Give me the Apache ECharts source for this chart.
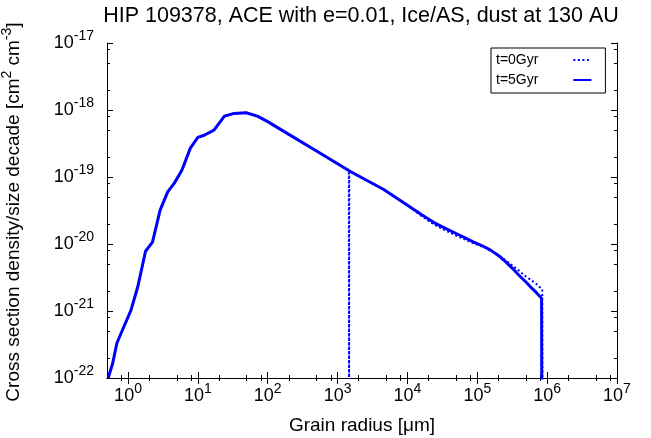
<!DOCTYPE html>
<html>
<head>
<meta charset="utf-8">
<script src="https://cdn.jsdelivr.net/npm/echarts@6/dist/echarts.min.js"></script>
<style>
html,body{margin:0;padding:0;background:#fff;}
#chart{width:651px;height:438px;}
</style>
</head>
<body>
<div id="chart"></div>
<script>
// ---- data (grain radius in micrometres, cross section density per size decade) ----
var radius0 = [0.52, 0.603, 0.692, 0.832, 1.10, 1.38, 1.78, 2.24, 2.88, 3.7, 4.6, 5.9, 7.8, 10, 12.3, 17, 24, 33, 49, 71, 100, 170, 513, 1450, 1460, 1470, 4570, 10000, 15800, 24000, 35500, 56200, 89100, 126000, 155000, 200000, 251000, 316000, 398000, 501000, 575000, 708000, 851000, 860000];
var value0  = [1.0e-22, 1.66e-22, 3.3e-22, 5.2e-22, 1.02e-21, 2.3e-21, 7.8e-21, 1.07e-20, 3.2e-20, 6.0e-20, 8.1e-20, 1.26e-19, 2.7e-19, 3.9e-19, 4.2e-19, 5.0e-19, 8.1e-19, 8.9e-19, 9.1e-19, 8.1e-19, 6.7e-19, 4.8e-19, 2.4e-19, 1.23e-19, 1e-23, 1.22e-19, 6.5e-20, 3.8e-20, 2.63e-20, 1.95e-20, 1.58e-20, 1.26e-20, 1.02e-20, 8.9e-21, 7.9e-21, 6.9e-21, 5.75e-21, 4.79e-21, 3.98e-21, 3.24e-21, 2.95e-21, 2.51e-21, 2.09e-21, 1e-23];
var radius5 = [0.52, 0.603, 0.692, 0.832, 1.10, 1.38, 1.78, 2.24, 2.88, 3.7, 4.6, 5.9, 7.8, 10, 12.3, 17, 24, 33, 49, 71, 100, 170, 513, 1550, 4570, 10000, 15800, 24000, 35500, 56200, 89100, 126000, 155000, 200000, 251000, 316000, 398000, 501000, 603000, 708000, 832000, 841000];
var value5  = [1.0e-22, 1.66e-22, 3.3e-22, 5.2e-22, 1.02e-21, 2.3e-21, 7.8e-21, 1.07e-20, 3.2e-20, 6.0e-20, 8.1e-20, 1.26e-19, 2.7e-19, 3.9e-19, 4.2e-19, 5.0e-19, 8.1e-19, 8.9e-19, 9.1e-19, 8.1e-19, 6.7e-19, 4.8e-19, 2.4e-19, 1.2e-19, 6.5e-20, 3.8e-20, 2.75e-20, 2.09e-20, 1.70e-20, 1.35e-20, 1.07e-20, 9.1e-21, 8.1e-21, 6.76e-21, 5.5e-21, 4.37e-21, 3.39e-21, 2.69e-21, 2.19e-21, 1.86e-21, 1.55e-21, 1e-23];
var seriesNames = ['t=0Gyr', 't=5Gyr'];

// ---- ticks ----
var xMajor = [1, 10, 100, 1e3, 1e4, 1e5, 1e6, 1e7];
var xMinor = [0.8, 2, 5, 8, 20, 50, 80, 200, 500, 800, 2e3, 5e3, 8e3, 2e4, 5e4, 8e4, 2e5, 5e5, 8e5, 2e6, 5e6, 8e6];
var yMajor = [1e-22, 1e-21, 1e-20, 1e-19, 1e-18, 1e-17];
var yMinor = [2e-22, 5e-22, 8e-22, 2e-21, 5e-21, 8e-21, 2e-20, 5e-20, 8e-20, 2e-19, 5e-19, 8e-19, 2e-18, 5e-18, 8e-18];

var titleText = 'HIP 109378, ACE with e=0.01, Ice/AS, dust at 130 AU';
var xName = 'Grain radius [\u03bcm]';

var FONT = '"Liberation Sans", Arial, sans-serif';
function pairs(xs, ys) { return xs.map(function (x, i) { return [x, ys[i]]; }); }
var supRich = {
  b: { fontSize: 18, fontFamily: FONT, color: '#000', lineHeight: 18, verticalAlign: 'bottom' },
  s: { fontSize: 14, fontFamily: FONT, color: '#000', lineHeight: 14, padding: [0, 0, 9, 0], verticalAlign: 'bottom' }
};
function powLabel(v) { return '{b|10}{s|' + Math.round(Math.log10(v)) + '}'; }

function axis(kind, pos, ticks, len, withLine, withLabels) {
  return {
    type: 'log', logBase: 10, position: pos,
    min: kind === 'x' ? 0.5 : 1e-22, max: kind === 'x' ? 1e7 : 1e-17,
    axisLine: { show: withLine, lineStyle: { color: '#000', width: 1 } },
    axisTick: { show: true, inside: true, length: len, customValues: ticks, lineStyle: { color: '#000', width: 1 } },
    minorTick: { show: false },
    splitLine: { show: false },
    axisLabel: withLabels ? {
      show: true, customValues: ticks, formatter: powLabel, rich: supRich,
      margin: kind === 'x' ? 9 : 13
    } : { show: false }
  };
}

var chart = echarts.init(document.getElementById('chart'), null, { renderer: 'canvas' });
chart.setOption({
  animation: false,
  backgroundColor: '#fff',
  grid: { left: 107, right: 34, top: 43, bottom: 60, containLabel: false },
  xAxis: [
    axis('x', 'bottom', xMajor, 6, true, true),
    axis('x', 'bottom', xMinor, 3, false, false),
    axis('x', 'top', xMajor, 6, true, false),
    axis('x', 'top', xMinor, 3, false, false)
  ],
  yAxis: [
    axis('y', 'left', yMajor, 6, true, true),
    axis('y', 'left', yMinor, 3, false, false),
    axis('y', 'right', yMajor, 6, true, false),
    axis('y', 'right', yMinor, 3, false, false)
  ],
  legend: {
    data: seriesNames,
    orient: 'vertical', left: 491, top: 48, align: 'right',
    borderColor: '#000', borderWidth: 1, borderRadius: 0,
    padding: [5, 13, 6, 5],
    itemWidth: 18, itemHeight: 14, itemGap: 6,
    itemStyle: { opacity: 0 },
    formatter: '{a|{name}}',
    textStyle: { fontSize: 14, fontFamily: FONT, color: '#000', rich: { a: { fontSize: 14, fontFamily: FONT, color: '#000', padding: [0, 30, 0, 0] } } }
  },
  series: [
    {
      name: seriesNames[0], type: 'line', xAxisIndex: 0, yAxisIndex: 0,
      data: pairs(radius0, value0), symbol: 'none', clip: true,
      lineStyle: { color: '#0000ff', width: 2, type: [2, 2.5] },
      itemStyle: { color: '#0000ff' }
    },
    {
      name: seriesNames[1], type: 'line', xAxisIndex: 0, yAxisIndex: 0,
      data: pairs(radius5, value5), symbol: 'none', clip: true,
      lineStyle: { color: '#0000ff', width: 3, type: 'solid' },
      itemStyle: { color: '#0000ff' }
    }
  ],
  graphic: [
    { type: 'text', x: 361, y: 16, style: { text: titleText, font: '21.5px ' + FONT, fill: '#000', align: 'center', verticalAlign: 'middle' } },
    { type: 'text', x: 362, y: 426, style: { text: xName, font: '19px ' + FONT, fill: '#000', align: 'center', verticalAlign: 'middle' } },
    { type: 'text', x: 14, y: 212, rotation: Math.PI / 2,
      style: {
        text: '{b|Cross section density/size decade [cm}{s|2}{b| cm}{s|-3}{b|]}',
        rich: {
          b: { fontSize: 19, fontFamily: FONT, fill: '#000', lineHeight: 19, verticalAlign: 'bottom' },
          s: { fontSize: 14, fontFamily: FONT, fill: '#000', lineHeight: 14, padding: [0, 0, 9, 0], verticalAlign: 'bottom' }
        },
        align: 'center', verticalAlign: 'middle'
      }
    }
  ]
});
</script>
</body>
</html>
